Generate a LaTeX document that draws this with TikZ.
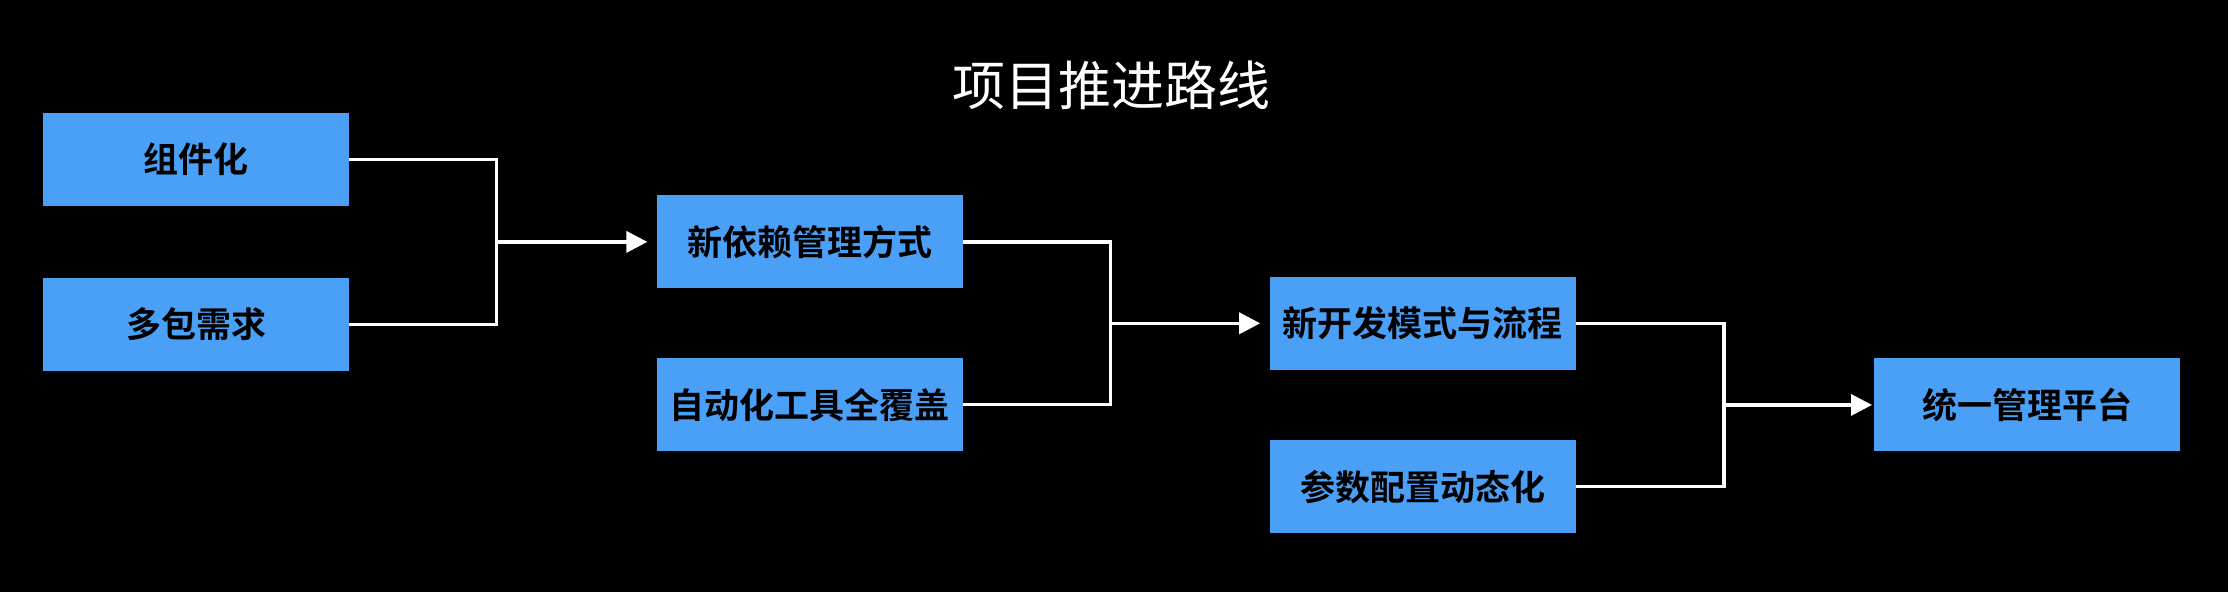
\documentclass[tikz,border=0pt]{standalone}
\usepackage{fontspec}
\newfontfamily\cjk{Noto Sans CJK SC}[BoldFont={Noto Sans CJK SC Bold}]
\usepackage{tikz}
\usetikzlibrary{positioning, arrows.meta, calc}
\definecolor{boxblue}{HTML}{4AA0F7}

\begin{document}
\begin{tikzpicture}[
    x=0.5pt, y=-0.5pt,
    node distance=35.5pt and 153.5pt,
    stepbox/.style={
        rectangle, fill=boxblue, minimum width=153pt, minimum height=46.5pt,
        inner sep=0pt, text=black, font=\cjk\bfseries\fontsize{17.5pt}{20pt}\selectfont
    },
    link/.style={draw=white, line width=1.7pt},
    arrow/.style={link, -{Triangle[length=10.5pt, width=10.5pt]}, shorten >=4.5pt},
    title/.style={text=white, font=\cjk\fontsize{26.5pt}{30pt}\selectfont},
]

% ── Background ────────────────────────────────────────────────────────────
\fill[black] (0,0) rectangle (2228,592);

% ── Title ─────────────────────────────────────────────────────────────────
\node[title] (title) at (1111,85) {项目推进路线};

% ── Stage 1 ───────────────────────────────────────────────────────────────
\node[stepbox] (comp) at (196,159.5) {组件化};
\node[stepbox, below=of comp] (multi) {多包需求};

% ── Stage 2 ───────────────────────────────────────────────────────────────
\coordinate (m1) at ($(comp.east)!0.5!(multi.east)$);
\coordinate[right=73.5pt of m1] (j1);
\node[stepbox, right=of m1] (dep) {新依赖管理方式};
\node[stepbox, below=34.5pt of dep] (auto) {自动化工具全覆盖};

% ── Stage 3 ───────────────────────────────────────────────────────────────
\coordinate (m2) at ($(dep.east)!0.5!(auto.east)$);
\coordinate[right=73.5pt of m2] (j2);
\node[stepbox, right=153pt of m2] (dev) {新开发模式与流程};
\node[stepbox, below=34.75pt of dev] (param) {参数配置动态化};

% ── Stage 4 ───────────────────────────────────────────────────────────────
\coordinate (m3) at ($(dev.east)!0.5!(param.east)$);
\coordinate[right=74pt of m3] (j3);
\node[stepbox, right=149pt of m3] (plat) {统一管理平台};

% ── Connectors ────────────────────────────────────────────────────────────
\draw[link] (comp.east) -| (j1) |- (multi.east);
\draw[arrow] (j1) -- (dep);
\draw[link] (dep.east) -| (j2) |- (auto.east);
\draw[arrow] (j2) -- (dev);
\draw[link] (dev.east) -| (j3) |- (param.east);
\draw[arrow, shorten >=1pt] (j3) -- (plat);

\end{tikzpicture}
\end{document}
